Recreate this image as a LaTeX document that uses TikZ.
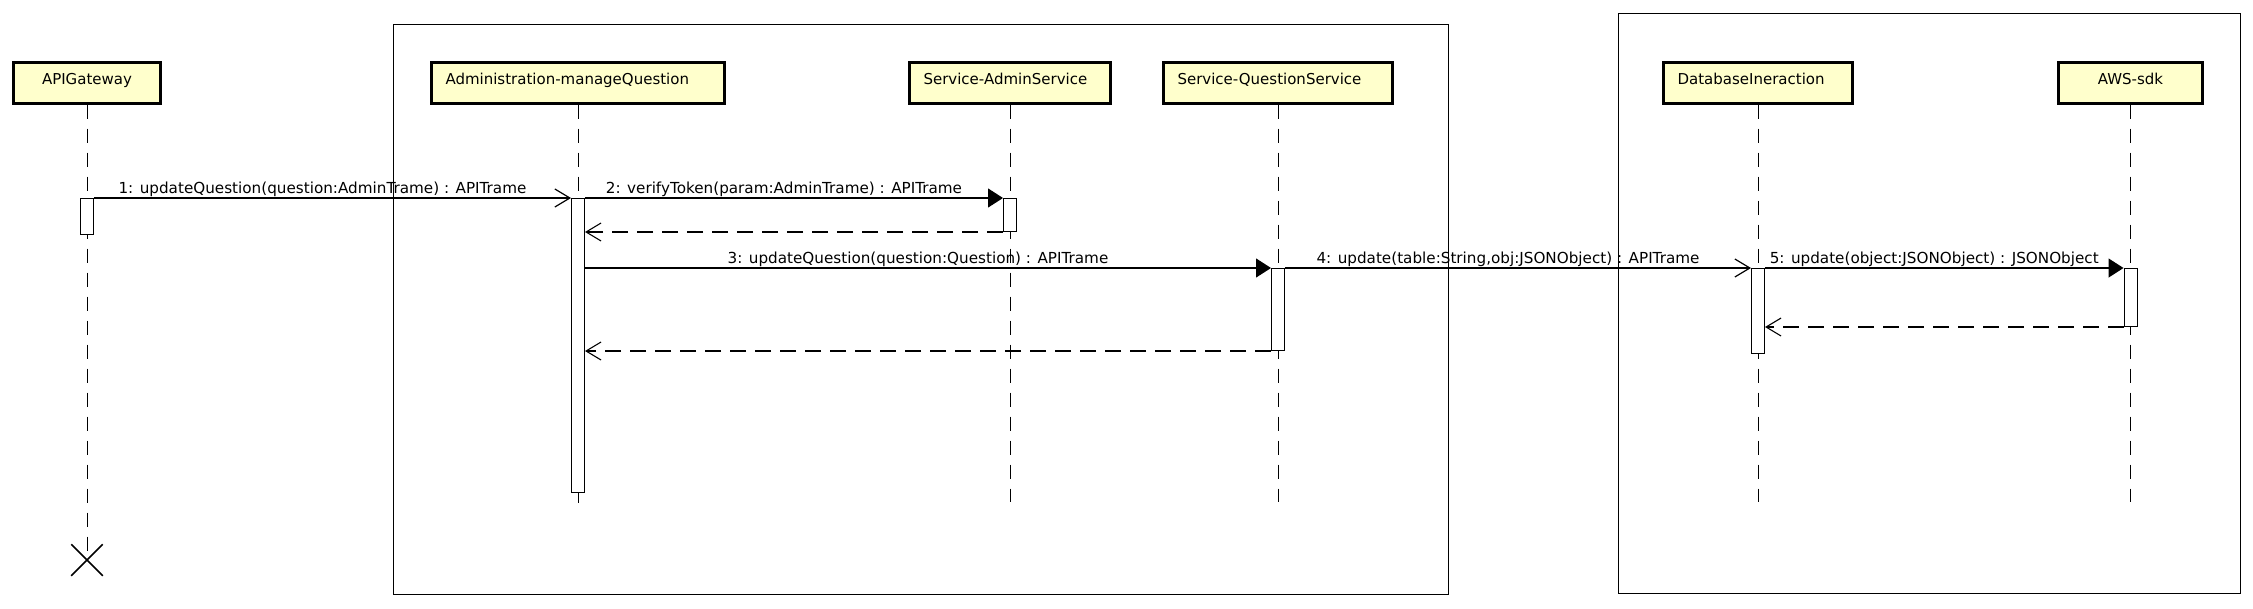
\documentclass[tikz,border=0pt]{standalone}
\usepackage{fontspec}
\setmainfont{DejaVu Sans}
\usepackage{tikz}
\usetikzlibrary{arrows.meta, shapes.misc}
\definecolor{lifebox}{RGB}{255,255,204}
\tikzset{>=stealth}

\begin{document}
\begin{tikzpicture}[x=1pt, y=-1pt,
        header/.style={draw, line width=3pt, fill=lifebox, minimum height=41pt, inner xsep=14pt, inner ysep=0pt, text height=11pt, text depth=6.5pt, font=\fontsize{15}{18}\selectfont},
        lefttext/.style={text width=#1, align=left},
        act/.style={draw, fill=white, line width=1pt, minimum width=13pt, minimum height=#1, inner sep=0pt, anchor=north},
        lifeline/.style={line width=1pt, dash pattern=on 14pt off 10pt},
        call/.style={line width=1.2pt, -{Triangle[length=15pt, width=19pt]}},
        async/.style={line width=1.2pt, -{Straight Barb[length=15pt, width=18pt, line width=1.2pt]}},
        reply/.style={line width=1.1pt, dash pattern=on 16pt off 9pt, -{Straight Barb[length=15pt, width=18pt, line width=1.1pt]}},
        msg/.style={anchor=base, yshift=5pt, xshift=-10pt, inner sep=0pt, font=\fontsize{15.2}{18}\selectfont},
        frame/.style={line width=1pt}]
        \useasboundingbox (0,0) rectangle (2253,608);

        \draw[frame] (393,24) rectangle (1448,594);
        \draw[frame] (1618,13) rectangle (2240,593);

        \node[header, minimum width=147pt] (gw) at (87,82.5) {APIGateway};
        \node[header, lefttext=265pt] (adm) at (578,82.5) {Administration-manageQuestion};
        \node[header, lefttext=173pt] (asvc) at (1010,82.5) {Service-AdminService};
        \node[header, lefttext=201pt] (qsvc) at (1278,82.5) {Service-QuestionService};
        \node[header, lefttext=161pt] (db) at (1758,82.5) {DatabaseIneraction};
        \node[header, minimum width=144pt] (aws) at (2130.5,82.5) {AWS-sdk};

        \node[draw, cross out, line width=1.5pt, minimum size=30pt, inner sep=0pt] (kill) at (87,560) {};
        \coordinate (admEnd) at (578,512);
        \coordinate (asvcEnd) at (1010,502);
        \coordinate (qsvcEnd) at (1278,502);
        \coordinate (dbEnd) at (1758,502);
        \coordinate (awsEnd) at (2130.5,502);

        \draw[lifeline] (gw.south) -- (kill.center);
        \draw[lifeline] (adm.south) -- (admEnd);
        \draw[lifeline] (asvc.south) -- (asvcEnd);
        \draw[lifeline] (qsvc.south) -- (qsvcEnd);
        \draw[lifeline] (db.south) -- (dbEnd);
        \draw[lifeline] (aws.south) -- (awsEnd);

        \node[act=36pt] (gwAct) at (87,198) {};
        \node[act=294pt] (admAct) at (578,198) {};
        \node[act=33pt] (asvcAct) at (1010,198) {};
        \node[act=82pt] (qsvcAct) at (1278,268) {};
        \node[act=85pt] (dbAct) at (1758,268) {};
        \node[act=58pt] (awsAct) at (2130.5,268) {};

        \draw[async] (gwAct.north east) -- node[msg] {1: updateQuestion(question:AdminTrame) : APITrame} (admAct.north west);
        \draw[call] (admAct.north east) -- node[msg] {2: verifyToken(param:AdminTrame) : APITrame} (asvcAct.north west);
        \draw[reply] (asvcAct.south west) -- (asvcAct.south west -| admAct.east);
        \draw[call] (admAct.east |- qsvcAct.north) -- node[msg] {3: updateQuestion(question:Question) : APITrame} (qsvcAct.north west);
        \draw[async] (qsvcAct.north east) -- node[msg] {4: update(table:String,obj:JSONObject) : APITrame} (dbAct.north west);
        \draw[call] (dbAct.north east) -- node[msg] {5: update(object:JSONObject) : JSONObject} (awsAct.north west);
        \draw[reply] (awsAct.south west) -- (awsAct.south west -| dbAct.east);
        \draw[reply] (qsvcAct.south west) -- (qsvcAct.south west -| admAct.east);
\end{tikzpicture}
\end{document}
